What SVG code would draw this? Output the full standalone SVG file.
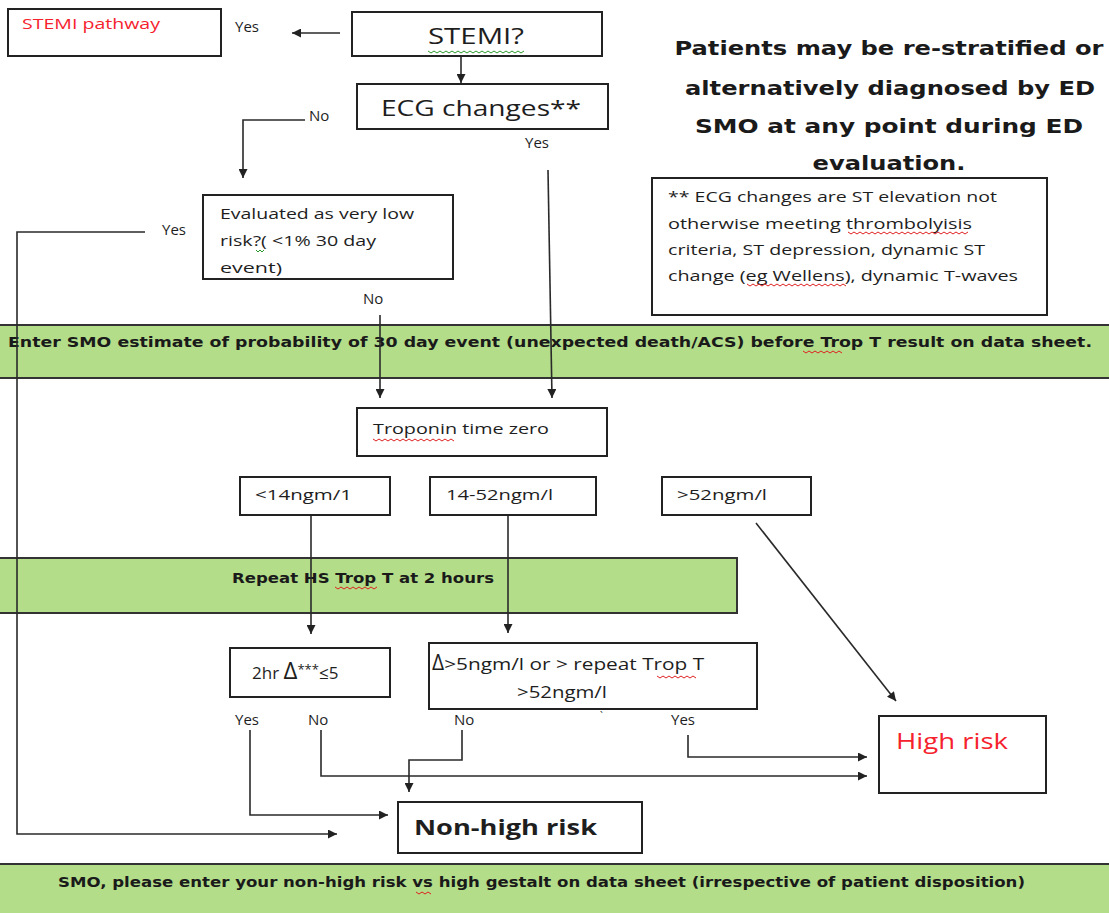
<svg xmlns="http://www.w3.org/2000/svg" width="1109" height="913" viewBox="0 0 1109 913">
<style>
.bg{fill:#ffffff}
.box{fill:#ffffff;stroke:#222;stroke-width:2}
.band{fill:#b3dd89;stroke:#333;stroke-width:2}
.con{fill:none;stroke:#2a2a2a;stroke-width:1.6}
.t{font-family:"Open Sans","Liberation Sans",sans-serif;fill:#1e1e1e}
.b{font-family:"DejaVu Sans","Liberation Sans",sans-serif;font-weight:bold;fill:#1a1a1a}
.red{fill:#f5222d}
.sq{fill:none;stroke-width:1}
.sqr{stroke:#e02020}
.sqg{stroke:#2a9a2a}
</style>
<defs>
<marker id="ah" viewBox="0 0 10 10" refX="10" refY="5" markerWidth="10" markerHeight="9" markerUnits="userSpaceOnUse" orient="auto">
<path d="M0,0 L10,5 L0,10 z" fill="#222"/>
</marker>
</defs>
<rect class="bg" x="0" y="0" width="1109" height="913"/>

<g id="bands">
<g id="band-smo-estimate">
<rect class="band" x="-2" y="325" width="1113" height="53"/>
<text class="b" x="8" y="347" font-size="14" textLength="1084" lengthAdjust="spacingAndGlyphs">Enter SMO estimate of probability of 30 day event (unexpected death/ACS) before Trop T result on data sheet.</text>
</g>
<g id="band-repeat">
<rect class="band" x="-2" y="558" width="739" height="55"/>
<text class="b" x="232" y="583" font-size="14" textLength="262" lengthAdjust="spacingAndGlyphs">Repeat HS Trop T at 2 hours</text>
</g>
<g id="band-gestalt">
<rect class="band" x="-2" y="864" width="1113" height="52"/>
<text class="b" x="58" y="887" font-size="14" textLength="967" lengthAdjust="spacingAndGlyphs">SMO, please enter your non-high risk vs high gestalt on data sheet (irrespective of patient disposition)</text>
</g>
</g>

<g id="connectors">
<path class="con" d="M340,33 H292" marker-end="url(#ah)"/>
<path class="con" d="M461,56 V83" marker-end="url(#ah)"/>
<path class="con" d="M305,120 H243 V178" marker-end="url(#ah)"/>
<path class="con" d="M548,170 L552,398" marker-end="url(#ah)"/>
<path class="con" d="M145,232 H17 V834 H337" marker-end="url(#ah)"/>
<path class="con" d="M380,315 V398" marker-end="url(#ah)"/>
<path class="con" d="M311,515 V634" marker-end="url(#ah)"/>
<path class="con" d="M508,515 V633" marker-end="url(#ah)"/>
<path class="con" d="M756,523 L896,701" marker-end="url(#ah)"/>
<path class="con" d="M250,730 V815 H388" marker-end="url(#ah)"/>
<path class="con" d="M321,730 V776 H867" marker-end="url(#ah)"/>
<path class="con" d="M462,730 V760 H409 V792" marker-end="url(#ah)"/>
<path class="con" d="M688,735 V757 H867" marker-end="url(#ah)"/>
<text class="t" x="235" y="32" font-size="15">Yes</text>
<text class="t" x="309" y="121" font-size="15">No</text>
<text class="t" x="525" y="148" font-size="15">Yes</text>
<text class="t" x="162" y="235" font-size="15">Yes</text>
<text class="t" x="363" y="304" font-size="15">No</text>
<text class="t" x="235" y="725" font-size="15">Yes</text>
<text class="t" x="308" y="725" font-size="15">No</text>
<text class="t" x="454" y="725" font-size="15">No</text>
<text class="t" x="671" y="725" font-size="15">Yes</text>
<text class="t" x="600" y="720" font-size="10">`</text>
</g>

<g id="node-stemi-pathway">
<rect class="box" x="8" y="9" width="213" height="47"/>
<text class="t red" x="22" y="29" font-size="14" textLength="138" lengthAdjust="spacingAndGlyphs">STEMI pathway</text>
</g>
<g id="node-stemi">
<rect class="box" x="352" y="12" width="250" height="44"/>
<text class="t" x="428" y="44" font-size="21" textLength="96" lengthAdjust="spacingAndGlyphs">STEMI?</text>
</g>
<g id="node-ecg">
<rect class="box" x="357" y="84" width="251" height="45"/>
<text class="t" x="381" y="116" font-size="21" textLength="200" lengthAdjust="spacingAndGlyphs">ECG changes**</text>
</g>
<g id="node-evaluated">
<rect class="box" x="203" y="195" width="250" height="84"/>
<text class="t" x="220" y="219" font-size="14" textLength="194" lengthAdjust="spacingAndGlyphs">Evaluated as very low</text>
<text class="t" x="220" y="246" font-size="14" textLength="156" lengthAdjust="spacingAndGlyphs">risk?( &lt;1% 30 day</text>
<text class="t" x="220" y="273" font-size="14" textLength="62" lengthAdjust="spacingAndGlyphs">event)</text>
</g>
<g id="node-heading">
<text class="b" x="889" y="55" font-size="20" text-anchor="middle" textLength="429" lengthAdjust="spacingAndGlyphs">Patients may be re-stratified or</text>
<text class="b" x="890" y="95" font-size="20" text-anchor="middle" textLength="410" lengthAdjust="spacingAndGlyphs">alternatively diagnosed by ED</text>
<text class="b" x="889" y="133" font-size="20" text-anchor="middle" textLength="388" lengthAdjust="spacingAndGlyphs">SMO at any point during ED</text>
<text class="b" x="889" y="170" font-size="20" text-anchor="middle" textLength="153" lengthAdjust="spacingAndGlyphs">evaluation.</text>
</g>
<g id="node-note">
<rect class="box" x="652" y="178" width="395" height="137"/>
<text class="t" x="668" y="202" font-size="14" textLength="329" lengthAdjust="spacingAndGlyphs">** ECG changes are ST elevation not</text>
<text class="t" x="668" y="229" font-size="14" textLength="304" lengthAdjust="spacingAndGlyphs">otherwise meeting thrombolyisis</text>
<text class="t" x="668" y="255" font-size="14" textLength="317" lengthAdjust="spacingAndGlyphs">criteria, ST depression, dynamic ST</text>
<text class="t" x="668" y="281" font-size="14" textLength="350" lengthAdjust="spacingAndGlyphs">change (eg Wellens), dynamic T-waves</text>
</g>
<g id="node-trop-zero">
<rect class="box" x="357" y="408" width="250" height="48"/>
<text class="t" x="373" y="434" font-size="15" textLength="176" lengthAdjust="spacingAndGlyphs">Troponin time zero</text>
</g>
<g id="node-lt14">
<rect class="box" x="240" y="477" width="150" height="38"/>
<text class="t" x="255" y="500" font-size="15" textLength="97" lengthAdjust="spacingAndGlyphs">&lt;14ngm/1</text>
</g>
<g id="node-14-52">
<rect class="box" x="430" y="477" width="166" height="38"/>
<text class="t" x="446" y="500" font-size="15" textLength="107" lengthAdjust="spacingAndGlyphs">14-52ngm/l</text>
</g>
<g id="node-gt52">
<rect class="box" x="662" y="477" width="149" height="38"/>
<text class="t" x="677" y="500" font-size="15" textLength="90" lengthAdjust="spacingAndGlyphs">&gt;52ngm/l</text>
</g>
<g id="node-2hr">
<rect class="box" x="230" y="648" width="160" height="49"/>
<text class="t" x="252" y="679" font-size="17">2hr <tspan font-size="24">Δ</tspan><tspan font-size="13" dy="-5">***</tspan><tspan dy="5">≤5</tspan></text>
</g>
<g id="node-delta">
<rect class="box" x="429" y="643" width="328" height="66"/>
<text class="t" x="432" y="670" font-size="16"><tspan font-size="21">Δ</tspan><tspan textLength="260" lengthAdjust="spacingAndGlyphs">&gt;5ngm/l or &gt; repeat Trop T</tspan></text>
<text class="t" x="517" y="698" font-size="16" textLength="90" lengthAdjust="spacingAndGlyphs">&gt;52ngm/l</text>
</g>
<g id="node-high-risk">
<rect class="box" x="879" y="716" width="167" height="77"/>
<text class="t red" x="896" y="749" font-size="22" textLength="112" lengthAdjust="spacingAndGlyphs">High risk</text>
</g>
<g id="node-non-high-risk">
<rect class="box" x="398" y="802" width="244" height="51"/>
<text class="t" x="414" y="835" font-size="22" font-weight="bold" textLength="183" lengthAdjust="spacingAndGlyphs">Non-high risk</text>
</g>

<g id="spellcheck-marks">
<path class="sq sqg" d="M428,51 l3,2 l3,-2 l3,2 l3,-2 l3,2 l3,-2 l3,2 l3,-2 l3,2 l3,-2 l3,2 l3,-2 l3,2 l3,-2 l3,2 l3,-2 l3,2 l3,-2 l3,2 l3,-2 l3,2 l3,-2 l3,2 l3,-2 l3,2 l3,-2 l3,2 l3,-2 l3,2 l3,-2 l3,2 l3,-2"/>
<path class="sq sqg" d="M256,250 l2,2 l2,-2 l2,2 l2,-2"/>
<path class="sq sqr" d="M848,232 l3,2 l3,-2 l3,2 l3,-2 l3,2 l3,-2 l3,2 l3,-2 l3,2 l3,-2 l3,2 l3,-2 l3,2 l3,-2 l3,2 l3,-2 l3,2 l3,-2 l3,2 l3,-2 l3,2 l3,-2 l3,2 l3,-2 l3,2 l3,-2 l3,2 l3,-2 l3,2 l3,-2 l3,2 l3,-2 l3,2 l3,-2 l3,2 l3,-2 l3,2 l3,-2 l3,2 l3,-2"/>
<path class="sq sqr" d="M747,284 l3,2 l3,-2 l3,2 l3,-2 l3,2 l3,-2 l3,2 l3,-2 l3,2 l3,-2 l3,2 l3,-2 l3,2 l3,-2 l3,2 l3,-2 l3,2 l3,-2 l3,2 l3,-2 l3,2 l3,-2 l3,2 l3,-2 l3,2 l3,-2 l3,2 l3,-2 l3,2 l3,-2 l3,2 l3,-2 l3,2"/>
<path class="sq sqr" d="M373,439 l3,2 l3,-2 l3,2 l3,-2 l3,2 l3,-2 l3,2 l3,-2 l3,2 l3,-2 l3,2 l3,-2 l3,2 l3,-2 l3,2 l3,-2 l3,2 l3,-2 l3,2 l3,-2 l3,2 l3,-2 l3,2 l3,-2 l3,2 l3,-2 l3,2"/>
<path class="sq sqr" d="M335,587 l3,2 l3,-2 l3,2 l3,-2 l3,2 l3,-2 l3,2 l3,-2 l3,2 l3,-2 l3,2 l3,-2 l3,2 l3,-2"/>
<path class="sq sqr" d="M803,351 l3,2 l3,-2 l3,2 l3,-2 l3,2 l3,-2 l3,2 l3,-2 l3,2 l3,-2 l3,2 l3,-2 l3,2"/>
<path class="sq sqr" d="M657,676 l3,2 l3,-2 l3,2 l3,-2 l3,2 l3,-2 l3,2 l3,-2 l3,2 l3,-2 l3,2 l3,-2 l3,2"/>
<path class="sq sqr" d="M416,892 l3,2 l3,-2 l3,2 l3,-2 l3,2"/>
</g>
</svg>
